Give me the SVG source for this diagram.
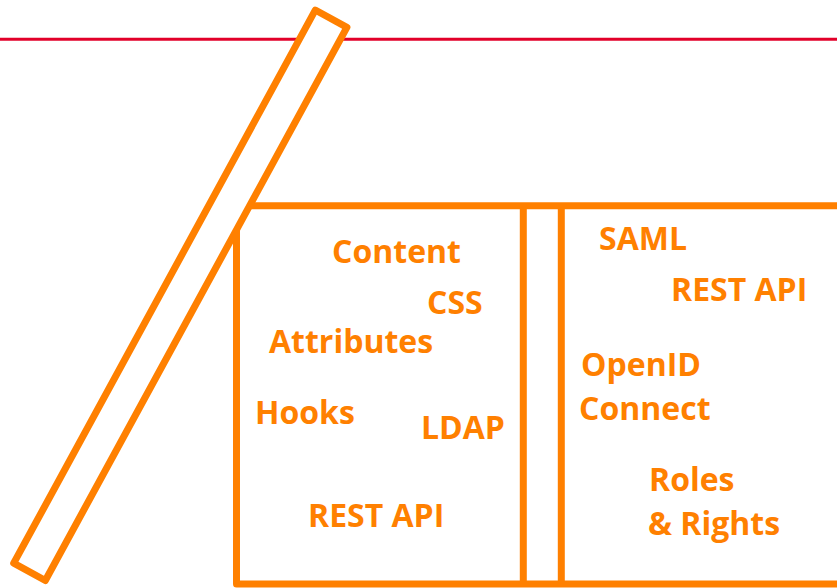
<svg xmlns="http://www.w3.org/2000/svg" width="837" height="588" viewBox="0 0 837 588">
<style>
.ln{fill:none;stroke:#ff8000;stroke-width:7;stroke-linejoin:round}
.lb{font-family:"Open Sans","Noto Sans","Liberation Sans",sans-serif;font-weight:700;font-size:32px;fill:#ff8000}
</style>
<rect width="837" height="588" fill="#ffffff"/>
<line id="horizon" x1="0" y1="39.3" x2="837" y2="39.3" stroke="#e2002a" stroke-width="3"/>
<g id="box">
<path class="ln" d="M248,205.7 H840 M236.5,230 V584 H840 M523.3,205.7 V584 M561.3,205.7 V584"/>
</g>
<g id="plank">
<rect class="ln" style="fill:#ffffff" x="-18" y="-315" width="36" height="630" transform="translate(180.3,295.3) rotate(28.6)"/>
</g>
<g id="left-panel">
<text class="lb" x="332" y="263">Content</text>
<text class="lb" x="427" y="314">CSS</text>
<text class="lb" x="269" y="353">Attributes</text>
<text class="lb" x="255" y="424">Hooks</text>
<text class="lb" x="421" y="439">LDAP</text>
<text class="lb" x="308" y="527">REST API</text>
</g>
<g id="right-panel">
<text class="lb" x="599" y="250">SAML</text>
<text class="lb" x="671" y="301">REST API</text>
<text class="lb" x="581" y="376">OpenID</text>
<text class="lb" x="579" y="420">Connect</text>
<text class="lb" x="649" y="491">Roles</text>
<text class="lb" x="648" y="535">&amp; Rights</text>
</g>
</svg>
